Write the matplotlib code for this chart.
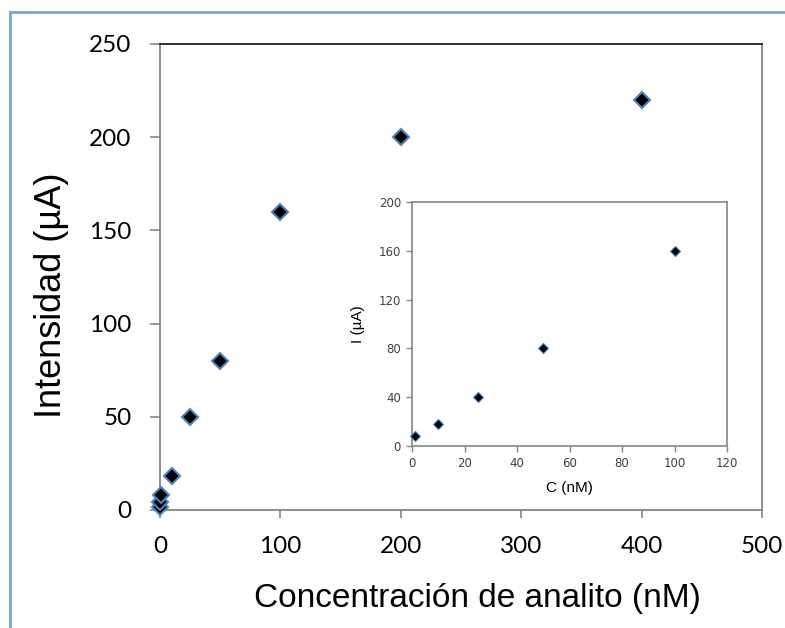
#!/usr/bin/env python3

import numpy as np
from matplotlib import pyplot as plt
from matplotlib.lines import Line2D

# datos
conc = [0.01, 0.1, 1, 10, 25, 50, 100, 200, 400]
intens = [1.5, 4.5, 8, 18, 50, 80, 160, 200, 220]

conc_ins = [1, 10, 25, 50, 100]
intens_ins = [8, 18, 40, 80, 160]

xticks = [0, 100, 200, 300, 400, 500]
yticks = [0, 50, 100, 150, 200, 250]
xticks_ins = [0, 20, 40, 60, 80, 100, 120]
yticks_ins = [0, 40, 80, 120, 160, 200]

gris = '#868686'
azul = '#4f81bd'

fig = plt.figure(figsize=(7.85, 6.28), dpi=100)

# marco exterior azul (solo izquierda y arriba)
fig.add_artist(Line2D([10/785, 10/785], [0, 1 - 12/628], transform=fig.transFigure,
                      color='#7aa5d6', lw=2))
fig.add_artist(Line2D([10/785, 1], [1 - 12/628, 1 - 12/628], transform=fig.transFigure,
                      color='#7aa5d6', lw=2))

ax = fig.add_axes([160/785, 118/628, 602/785, 466/628])
ax.plot(conc, intens, ls='none', marker='D', ms=8, mfc='black', mec=azul, mew=1.5,
        zorder=3, clip_on=False)
ax.set_xlim(0, 500)
ax.set_ylim(0, 250)
ax.set_xticks(xticks)
ax.set_yticks(yticks)
ax.tick_params(axis='both', direction='out', color=gris, width=1.2,
               labelsize=17.5, pad=13)
ax.tick_params(axis='y', length=7.5)
ax.tick_params(axis='x', length=5.5)
for lab in ax.get_xticklabels() + ax.get_yticklabels():
    lab.set_family('Lato')
ax.spines['left'].set_color(gris)
ax.spines['bottom'].set_color(gris)
ax.spines['right'].set_color(gris)
ax.spines['top'].set_color('#222222')
for s in ax.spines.values():
    s.set_linewidth(1.3)
ax.set_xlabel('Concentración de analito (nM)', family='Liberation Sans', fontsize=24)
ax.set_ylabel('Intensidad (µA)', family='Liberation Sans', fontsize=26)
ax.xaxis.set_label_coords(0.527, -0.157)
ax.yaxis.set_label_coords(-0.151, 0.461)

# grafico interior
axi = fig.add_axes([412/785, 182/628, 315/785, 244/628])
axi.plot(conc_ins, intens_ins, ls='none', marker='D', ms=5.5, mfc='black', mec=azul,
         mew=0.8, zorder=3, clip_on=False)
axi.set_xlim(0, 120)
axi.set_ylim(0, 200)
axi.set_xticks(xticks_ins)
axi.set_yticks(yticks_ins)
axi.tick_params(axis='both', direction='out', length=4, color=gris, width=1,
                labelsize=8.5, labelcolor='#404040', pad=4)
for s in axi.spines.values():
    s.set_color(gris)
    s.set_linewidth(1.2)
axi.set_xlabel('C (nM)', family='Liberation Sans', fontsize=11, labelpad=8)
axi.set_ylabel('I (µA)', family='Liberation Sans', fontsize=11, labelpad=10)

plt.savefig('out.png', dpi=100)
